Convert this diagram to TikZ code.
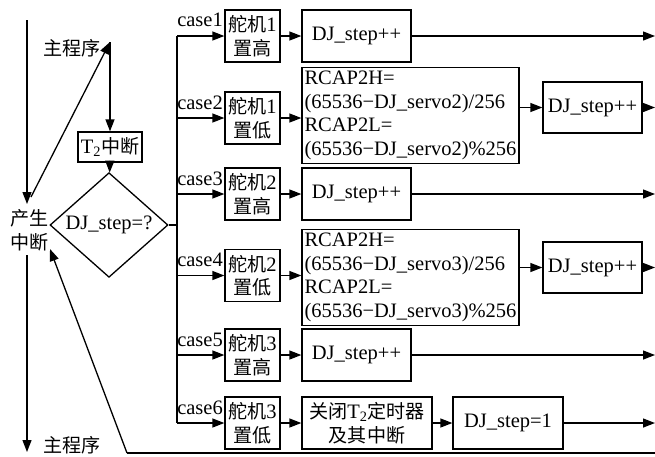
\documentclass[tikz,border=0pt]{standalone}
\usepackage{fontspec}
\setmainfont{Liberation Serif}
\newfontfamily\cjk[Scale=0.93]{Noto Sans CJK SC}
\usetikzlibrary{shapes.geometric,arrows.meta}
\newcommand{\zh}[1]{{\cjk #1}}
\begin{document}
\begin{tikzpicture}[x=1pt,y=-1pt,
  every node/.style={font=\fontsize{20.5}{23.5}\selectfont, inner sep=0pt},
  ln/.style={line width=1.3pt},
  arr/.style={ln,-{Triangle[length=12pt,width=9pt]}},
  box/.style={draw,ln,align=center,minimum height=52pt},
  servo/.style={box,minimum width=55pt},
  djbox/.style={box,minimum width=109pt},
  rbox/.style={draw,ln,align=left,minimum width=217pt,minimum height=96pt},
  qbox/.style={box,minimum width=99pt,minimum height=51pt},
  caselab/.style={anchor=east},
  thickln/.style={line width=2.4pt}]
\useasboundingbox (0,0) rectangle (655,456);

% reference coordinates
\coordinate (busx) at (177,0);
\coordinate (redge) at (655,0);

% left part
\coordinate (mp) at (110,42);
\node (mplab) at (72,48) {\zh{主程序}};
\node[draw,ln,minimum width=64pt,minimum height=30pt] (t2) at (110,147) {T\textsubscript{2}\zh{中断}};
\node[draw,ln,diamond,minimum width=118pt,minimum height=83pt] (dia) at (109,225) {DJ\_step=?};
\node[align=center,font=\fontsize{20.5}{24}\selectfont] (intr) at (30,230) {\zh{产生}\\\zh{中断}};
\node (mpbot) at (72,445) {\zh{主程序}};

\coordinate (la1) at (27,20);
\coordinate (la2) at (27,204);
\coordinate (ls) at (31,197);
\coordinate (lb1) at (27,255);
\coordinate (lb2) at (27,452);
\coordinate (botL) at (127,453);
\coordinate (botR) at (655,453);
\coordinate (itip) at (50,249);

\draw[arr] (la1) -- (la2);
\draw[arr] (ls) -- (mp);
\draw[arr] (mp) -- (t2);
\draw[arr] (t2) -- (dia);
\draw[arr] (lb1) -- (lb2);
\draw[thickln] (botR) -- (botL);
\draw[ln,-{Triangle[length=12pt,width=9pt]}] (botL) -- (itip);

% case rows
\node[servo] (s1) at (252.5,36) {\zh{舵机}1\\\zh{置高}};
\node[djbox] (d1) at (356.5,36) {DJ\_step++};
\node[servo] (s2) at (252.5,118) {\zh{舵机}1\\\zh{置低}};
\node[rbox] (r2) at (410.5,115.5) {RCAP2H=\\(65536−DJ\_servo2)/256\\RCAP2L=\\(65536−DJ\_servo2)\%256};
\node[qbox] (q2) at (592.5,107.5) {DJ\_step++};
\node[servo] (s3) at (252.5,194) {\zh{舵机}2\\\zh{置高}};
\node[djbox] (d3) at (356.5,194) {DJ\_step++};
\node[servo] (s4) at (252.5,275.5) {\zh{舵机}2\\\zh{置低}};
\node[rbox] (r4) at (410.5,277.5) {RCAP2H=\\(65536−DJ\_servo3)/256\\RCAP2L=\\(65536−DJ\_servo3)\%256};
\node[qbox] (q4) at (592.5,267.5) {DJ\_step++};
\node[servo] (s5) at (252.5,355) {\zh{舵机}3\\\zh{置高}};
\node[djbox] (d5) at (356.5,355) {DJ\_step++};
\node[servo] (s6) at (252.5,423) {\zh{舵机}3\\\zh{置低}};
\node[box,minimum width=130pt] (c6) at (367,423) {\zh{关闭}T\textsubscript{2}\zh{定时器}\\\zh{及其中断}};
\node[box,minimum width=110pt] (e6) at (508,423) {DJ\_step=1};

\node[caselab] (k1) at (223,20) {case1};
\node[caselab] (k2) at (223,103) {case2};
\node[caselab] (k3) at (223,179) {case3};
\node[caselab] (k4) at (223,260) {case4};
\node[caselab] (k5) at (223,340) {case5};
\node[caselab] (k6) at (223,408) {case6};

% bus
\draw[ln] (dia.east) -- (dia.east -| busx);
\draw[ln] (busx |- s1.west) -- (busx |- s6.west);
\foreach \s in {s1,s2,s3,s4,s5,s6}
  \draw[arr] (busx |- \s.west) -- (\s.west);

% row connectors
\draw[arr] (s1) -- (d1);
\draw[arr] (d1.east) -- (d1.east -| redge);
\draw[arr] (s2.east) -- (s2.east -| r2.west);
\draw[arr] (r2.east |- q2.west) -- (q2.west);
\draw[arr] (q2.east) -- (q2.east -| redge);
\draw[arr] (s3) -- (d3);
\draw[arr] (d3.east) -- (d3.east -| redge);
\draw[arr] (s4.east) -- (s4.east -| r4.west);
\draw[arr] (r4.east |- q4.west) -- (q4.west);
\draw[arr] (q4.east) -- (q4.east -| redge);
\draw[arr] (s5) -- (d5);
\draw[arr] (d5.east) -- (d5.east -| redge);
\draw[arr] (s6) -- (c6);
\draw[arr] (c6) -- (e6);
\draw[arr] (e6.east) -- (e6.east -| redge);
\end{tikzpicture}
\end{document}
